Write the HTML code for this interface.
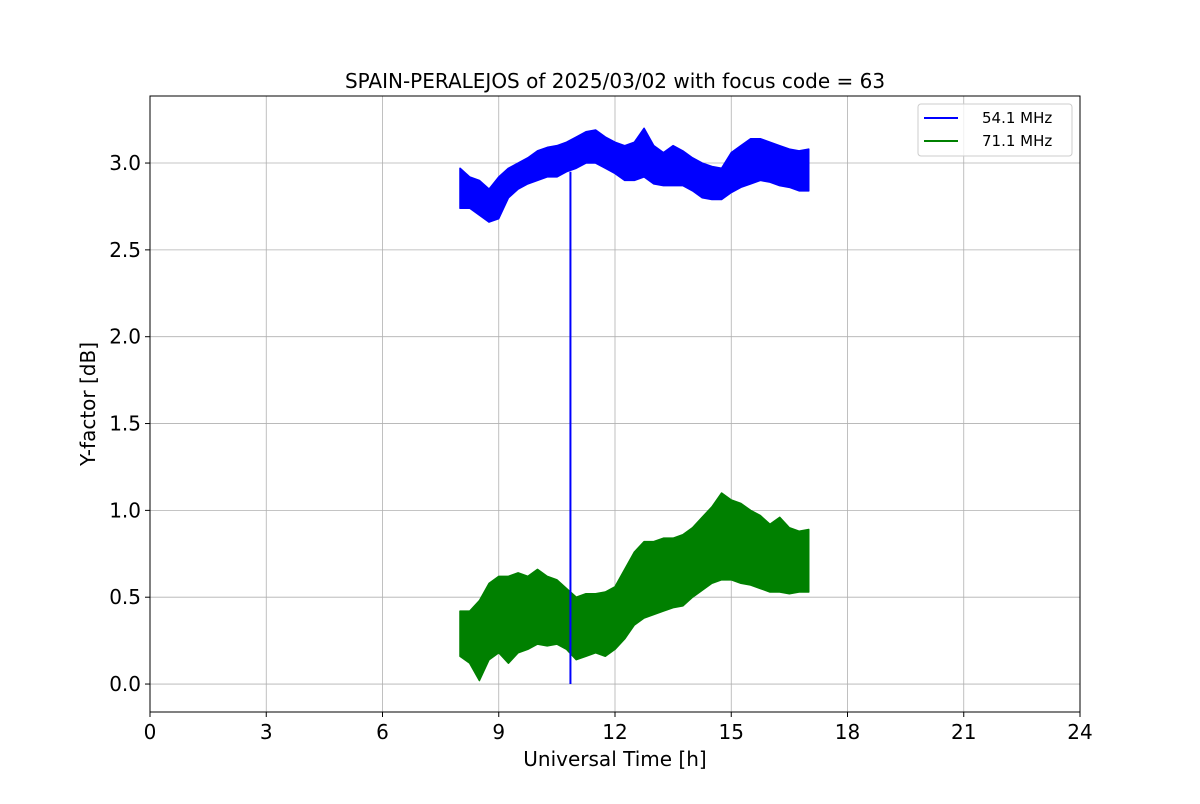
<!DOCTYPE html>
<html><head><meta charset="utf-8"><style>
body{margin:0;background:#fff;font-family:"DejaVu Sans","Liberation Sans",sans-serif}
text{font-family:"DejaVu Sans","Liberation Sans",sans-serif}
</style></head><body>
<svg id="chart" width="1200" height="800" xmlns="http://www.w3.org/2000/svg"></svg>
<script>
const times=[8,8.25,8.5,8.75,9,9.25,9.5,9.75,10,10.25,10.5,10.75,11,11.25,11.5,11.75,12,12.25,12.5,12.75,13,13.25,13.5,13.75,14,14.25,14.5,14.75,15,15.25,15.5,15.75,16,16.25,16.5,16.75,17];
const blueHi=[2.97,2.92,2.9,2.85,2.92,2.97,3.0,3.03,3.07,3.09,3.1,3.12,3.15,3.18,3.19,3.15,3.12,3.1,3.12,3.2,3.1,3.06,3.1,3.07,3.03,3.0,2.98,2.97,3.06,3.1,3.14,3.14,3.12,3.1,3.08,3.07,3.08];
const blueLo=[2.74,2.74,2.7,2.66,2.68,2.8,2.85,2.88,2.9,2.92,2.92,2.95,2.97,3.0,3.0,2.97,2.94,2.9,2.9,2.92,2.88,2.87,2.87,2.87,2.84,2.8,2.79,2.79,2.83,2.86,2.88,2.9,2.89,2.87,2.86,2.84,2.84];
const greenHi=[0.42,0.42,0.48,0.58,0.62,0.62,0.64,0.62,0.66,0.62,0.6,0.55,0.5,0.52,0.52,0.53,0.56,0.66,0.76,0.82,0.82,0.84,0.84,0.86,0.9,0.96,1.02,1.1,1.06,1.04,1.0,0.97,0.92,0.96,0.9,0.88,0.89];
const greenLo=[0.16,0.12,0.02,0.14,0.18,0.12,0.18,0.2,0.23,0.22,0.23,0.2,0.14,0.16,0.18,0.16,0.2,0.26,0.34,0.38,0.4,0.42,0.44,0.45,0.5,0.54,0.58,0.6,0.6,0.58,0.57,0.55,0.53,0.53,0.52,0.53,0.53];
const dropTime=10.85;
const xTicks=[0,3,6,9,12,15,18,21,24];
const yTicks=[0,0.5,1.0,1.5,2.0,2.5,3.0];
const yTickLabels=["0.0","0.5","1.0","1.5","2.0","2.5","3.0"];

const L=150,R=1080,T=96,B=712,X0=0,X1=24,Y0=-0.161,Y1=3.386;
const sx=v=>L+(v-X0)/(X1-X0)*(R-L);
const sy=v=>B-(v-Y0)/(Y1-Y0)*(B-T);
const svg=document.getElementById('chart');
const NS='http://www.w3.org/2000/svg';
function mk(tag,attrs,text){const e=document.createElementNS(NS,tag);for(const k in attrs)e.setAttribute(k,attrs[k]);if(text!==undefined)e.textContent=text;svg.appendChild(e);return e;}

xTicks.forEach(t=>{
  const g=mk('line',{x1:sx(t),x2:sx(t),y1:T,y2:B,stroke:'#b0b0b0','stroke-width':0.8});
  
  
  mk('line',{x1:sx(t),x2:sx(t),y1:B,y2:B+5,stroke:'#000','stroke-width':1});
  const lb=mk('text',{x:sx(t),y:B+27,'text-anchor':'middle','font-size':20},String(t));
  
  
});
yTicks.forEach((t,i)=>{
  const g=mk('line',{x1:L,x2:R,y1:sy(t),y2:sy(t),stroke:'#b0b0b0','stroke-width':0.8});
  
  
  mk('line',{x1:L-5,x2:L,y1:sy(t),y2:sy(t),stroke:'#000','stroke-width':1});
  const lb=mk('text',{x:L-9,y:sy(t)+7,'text-anchor':'end','font-size':20},yTickLabels[i]);
  
  
});

function band(hi,lo,color,name){
  let pts=times.map((t,i)=>sx(t)+','+sy(hi[i]));
  for(let i=times.length-1;i>=0;i--)pts.push(sx(times[i])+','+sy(lo[i]));
  const p=mk('polygon',{points:pts.join(' '),fill:color,stroke:color,'stroke-width':1.5,'stroke-linejoin':'round'});
  
  
}
band(greenHi,greenLo,'#008000','series-71-1-mhz');
const d=mk('line',{x1:sx(dropTime),x2:sx(dropTime),y1:sy(2.95),y2:sy(0),stroke:'#0000ff','stroke-width':2});


band(blueHi,blueLo,'#0000ff','series-54-1-mhz');

const fr=mk('rect',{x:L,y:T,width:R-L,height:B-T,fill:'none',stroke:'#000','stroke-width':1});



const ti=mk('text',{x:(L+R)/2,y:88,'text-anchor':'middle','font-size':20},'SPAIN-PERALEJOS of 2025/03/02 with focus code = 63');


const xl=mk('text',{x:(L+R)/2,y:766,'text-anchor':'middle','font-size':20},'Universal Time [h]');


const yl=mk('text',{x:95,y:(T+B)/2,'text-anchor':'middle','font-size':20,transform:'rotate(-90 95 '+((T+B)/2)+')'},'Y-factor [dB]');



const lg=mk('rect',{x:918,y:104,width:154,height:52,rx:3,fill:'#fff','fill-opacity':0.8,stroke:'#ccc','stroke-width':1});


[['54.1 MHz','#0000ff',118],['71.1 MHz','#008000',141]].forEach(([lab,c,y])=>{
  mk('line',{x1:924,x2:958,y1:y,y2:y,stroke:c,'stroke-width':2});
  const t=mk('text',{x:982,y:y+5,'font-size':15},lab);
  
  
});
</script>
</body></html>
